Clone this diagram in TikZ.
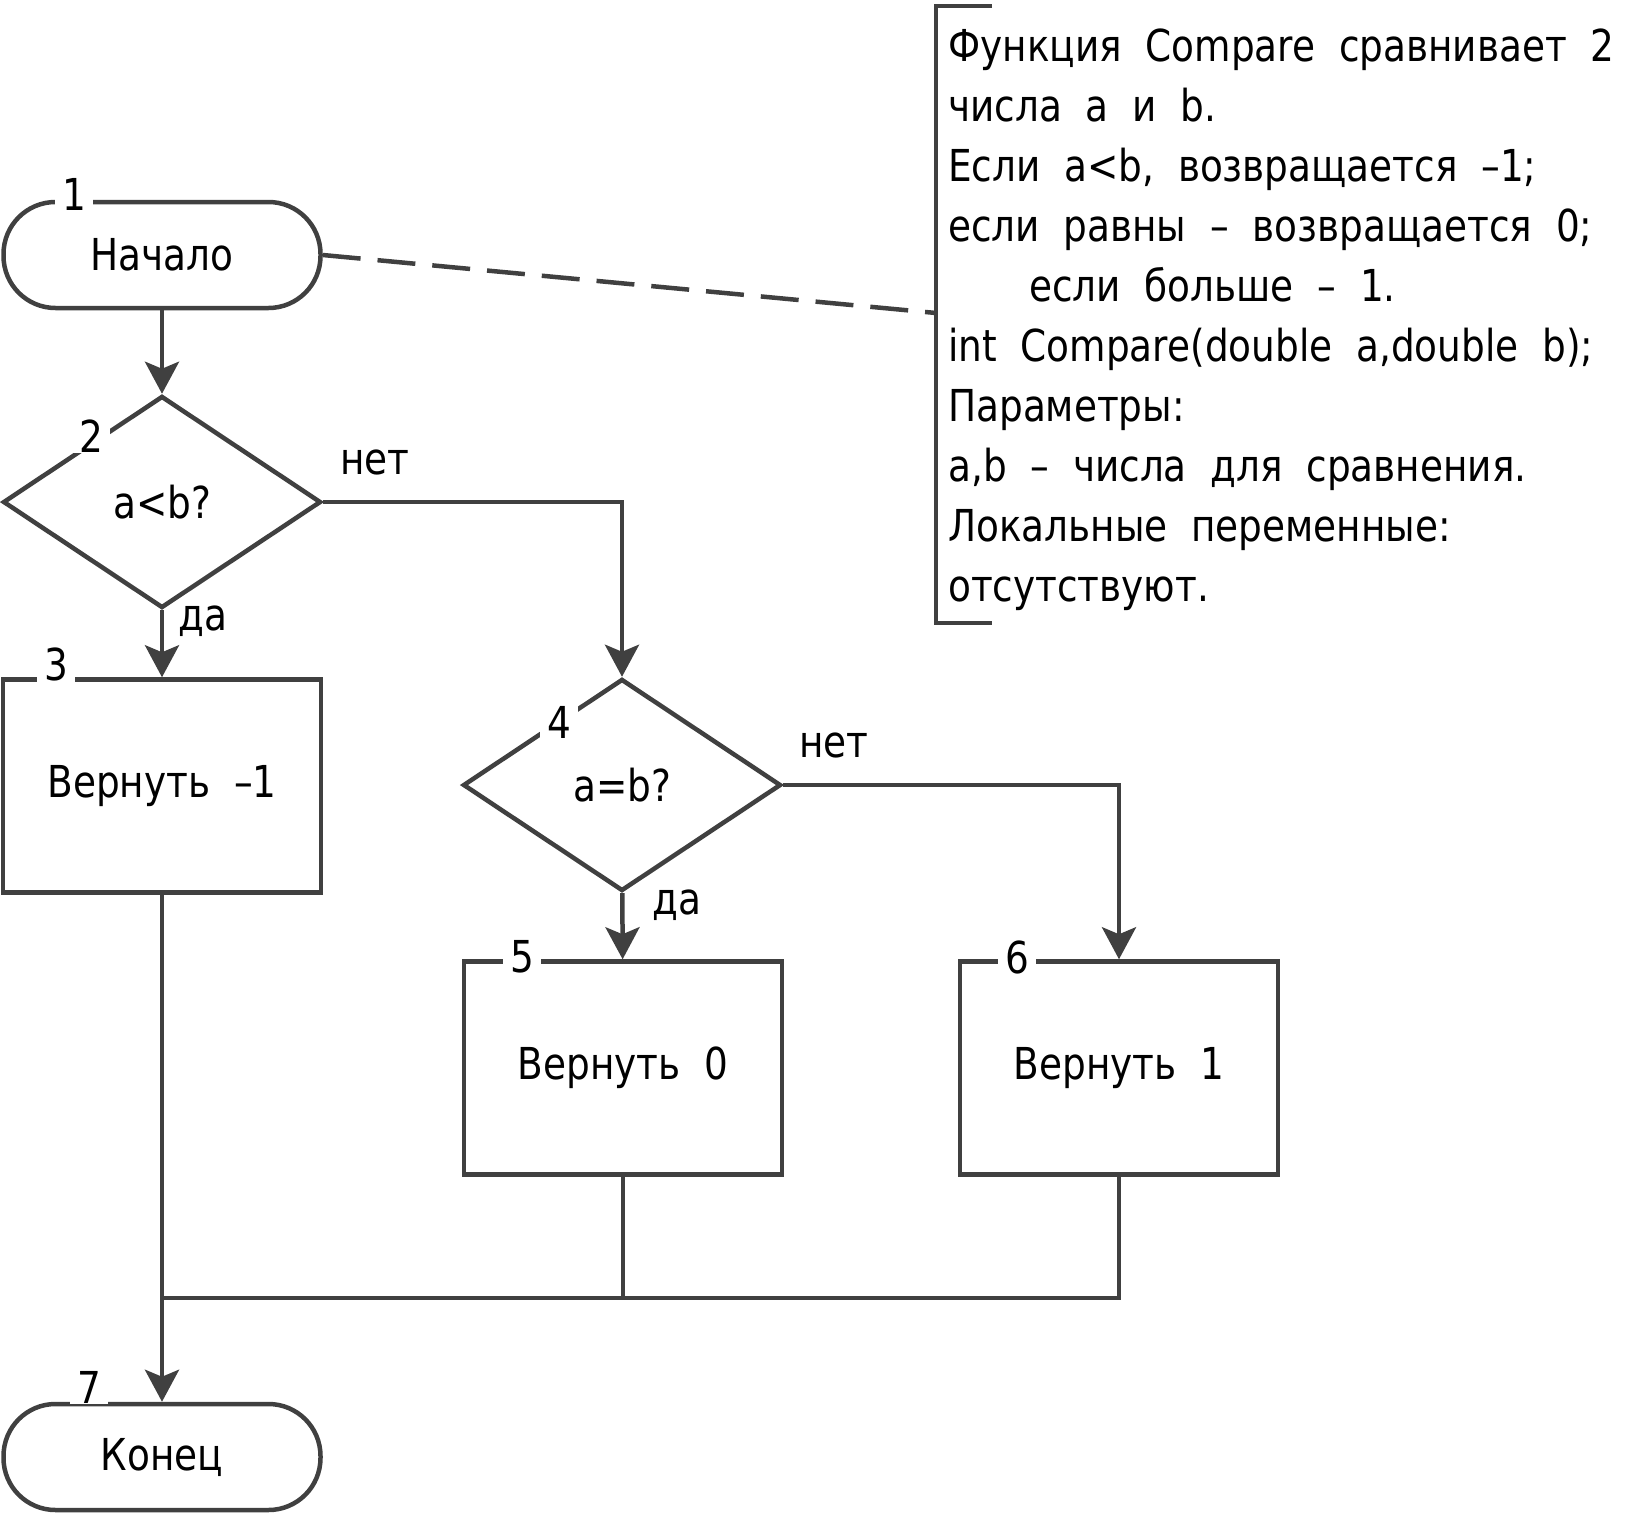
\documentclass[tikz,border=0pt]{standalone}
\usepackage{fontspec}
\setmainfont{DejaVu Sans}[FakeStretch=0.85,WordSpace=2]
\usetikzlibrary{arrows.meta,shapes.geometric}
\definecolor{lnGray}{HTML}{404040}
\tikzset{
  blk/.style={draw=lnGray, line width=4.5pt, inner sep=0pt, font=\fontsize{44}{52}\selectfont},
  term/.style={blk, rectangle, rounded corners=52pt, minimum width=317pt, minimum height=106pt},
  cond/.style={blk, diamond, minimum width=318pt, minimum height=212pt},
  proc/.style={blk, rectangle, minimum width=318pt, minimum height=213pt},
  num/.style={fill=white, inner xsep=7pt, inner ysep=1pt, font=\fontsize{44}{52}\selectfont},
  lbl/.style={inner sep=0pt, font=\fontsize{44}{52}\selectfont},
  cmt/.style={inner sep=0pt, anchor=base west, font=\fontsize{44}{52}\selectfont},
  wire/.style={draw=lnGray, line width=4.5pt},
  flow/.style={wire, -{Stealth[length=32pt,width=34pt,inset=7pt]}},
}
\begin{document}
\begin{tikzpicture}[x=1pt,y=-1pt]
  \useasboundingbox (0,0) rectangle (1646,1515);
  % blocks
  \node[term] (start) at (162,255) {Начало};
  \node[cond] (q1) at (162,502) {a<b?};
  \node[proc] (ret1) at (162,786) {Вернуть –1};
  \node[cond] (q2) at (622,785) {a=b?};
  \node[proc] (ret2) at (623,1068) {Вернуть 0};
  \node[proc] (ret3) at (1119,1068) {Вернуть 1};
  \node[term] (stop) at (162,1457) {Конец};
  % block numbers
  \node[num] (n1) at (74,194) {1};
  \node[num] (n2) at (91,436) {2};
  \node[num] (n3) at (56,664) {3};
  \node[num] (n4) at (559,722) {4};
  \node[num] (n5) at (522,957) {5};
  \node[num] (n6) at (1017,957) {6};
  \node[num] (n7) at (89,1387) {7};
  % flow lines
  \draw[flow] (start) -- (q1);
  \draw[flow] (q1) -- (ret1);
  \draw[flow] (q1.east) -| (q2.north);
  \draw[flow] (q2) -- (ret2);
  \draw[flow] (q2.east) -| (ret3.north);
  \draw[flow] (ret1) -- (stop);
  \coordinate (join) at (162,1298);
  \draw[wire] (ret3.south) |- (join);
  \draw[wire] (ret2.south) -- (ret2.south |- join);
  \node[lbl] (no1) at (375,462) {нет};
  \node[lbl] (yes1) at (203,621) {да};
  \node[lbl] (no2) at (834,745) {нет};
  \node[lbl] (yes2) at (677,905) {да};
  % comment
  \coordinate (brtop) at (992,6);
  \coordinate (brbot) at (992,623);
  \coordinate (brpin) at (936,313);
  \draw[wire] (brtop) -- (936,6) -- (936,623) -- (brbot);
  \draw[wire, dash pattern=on 38pt off 17pt] (start.east) -- (brpin);
  \foreach \t [count=\i] in {{Функция Compare сравнивает 2},{числа a и b.},
      {Если a<b, возвращается –1;},{если равны – возвращается 0;},
      {\hspace*{81pt}если больше – 1.},{int Compare(double a,double b);},
      {Параметры:},{a,b – числа для сравнения.},{Локальные переменные:},
      {отсутствуют.}}
    \node[cmt] (cm\i) at (948,1+60*\i) {\t};
\end{tikzpicture}
\end{document}
